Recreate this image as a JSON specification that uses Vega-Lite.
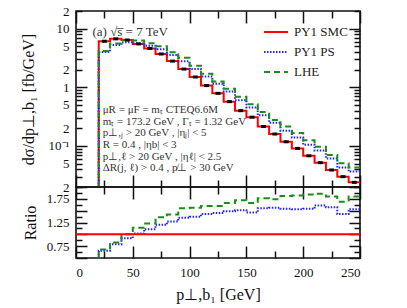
{
  "$schema": "https://vega.github.io/schema/vega-lite/v6.json",
  "padding": {"left": 19, "top": 4, "right": 5, "bottom": 5},
  "background": "white",
  "spacing": 0,
  "bounds": "flush",
  "config": {
    "font": "Liberation Serif",
    "view": {"stroke": "#111", "strokeWidth": 1.6},
    "axis": {
      "domain": false, "grid": false,
      "labelFont": "Liberation Serif", "labelFontSize": 13, "labelColor": "#111",
      "titleFont": "Liberation Serif", "titleFontSize": 16, "titleFontWeight": "normal", "titleColor": "#111",
      "tickColor": "#111", "tickWidth": 1.5
    },
    "legend": {"rowPadding": -20, "labelFontSize": 13, "symbolSize": 576}
  },
  "datasets": {
    "main": [
      {"s": "PY1 SMC", "x": 20, "v": 0.02}, {"s": "PY1 SMC", "x": 20, "v": 6.1}, {"s": "PY1 SMC", "x": 30, "v": 6.7}, {"s": "PY1 SMC", "x": 40, "v": 6.4}, {"s": "PY1 SMC", "x": 50, "v": 5.5}, {"s": "PY1 SMC", "x": 60, "v": 4.6}, {"s": "PY1 SMC", "x": 70, "v": 3.7}, {"s": "PY1 SMC", "x": 80, "v": 2.8}, {"s": "PY1 SMC", "x": 90, "v": 2.05}, {"s": "PY1 SMC", "x": 100, "v": 1.5}, {"s": "PY1 SMC", "x": 110, "v": 1.07}, {"s": "PY1 SMC", "x": 120, "v": 0.79}, {"s": "PY1 SMC", "x": 130, "v": 0.57}, {"s": "PY1 SMC", "x": 140, "v": 0.4}, {"s": "PY1 SMC", "x": 150, "v": 0.31}, {"s": "PY1 SMC", "x": 160, "v": 0.215}, {"s": "PY1 SMC", "x": 170, "v": 0.16}, {"s": "PY1 SMC", "x": 180, "v": 0.118}, {"s": "PY1 SMC", "x": 190, "v": 0.091}, {"s": "PY1 SMC", "x": 200, "v": 0.068}, {"s": "PY1 SMC", "x": 210, "v": 0.052}, {"s": "PY1 SMC", "x": 220, "v": 0.039}, {"s": "PY1 SMC", "x": 230, "v": 0.03}, {"s": "PY1 SMC", "x": 240, "v": 0.024}, {"s": "PY1 SMC", "x": 250, "v": 0.024},
      {"s": "PY1 PS", "x": 20, "v": 0.02}, {"s": "PY1 PS", "x": 20, "v": 3.99}, {"s": "PY1 PS", "x": 30, "v": 5.29}, {"s": "PY1 PS", "x": 40, "v": 5.86}, {"s": "PY1 PS", "x": 50, "v": 5.61}, {"s": "PY1 PS", "x": 60, "v": 5.11}, {"s": "PY1 PS", "x": 70, "v": 4.44}, {"s": "PY1 PS", "x": 80, "v": 3.56}, {"s": "PY1 PS", "x": 90, "v": 2.77}, {"s": "PY1 PS", "x": 100, "v": 2.06}, {"s": "PY1 PS", "x": 110, "v": 1.53}, {"s": "PY1 PS", "x": 120, "v": 1.15}, {"s": "PY1 PS", "x": 130, "v": 0.85}, {"s": "PY1 PS", "x": 140, "v": 0.604}, {"s": "PY1 PS", "x": 150, "v": 0.453}, {"s": "PY1 PS", "x": 160, "v": 0.333}, {"s": "PY1 PS", "x": 170, "v": 0.25}, {"s": "PY1 PS", "x": 180, "v": 0.182}, {"s": "PY1 PS", "x": 190, "v": 0.139}, {"s": "PY1 PS", "x": 200, "v": 0.105}, {"s": "PY1 PS", "x": 210, "v": 0.0837}, {"s": "PY1 PS", "x": 220, "v": 0.0612}, {"s": "PY1 PS", "x": 230, "v": 0.0429}, {"s": "PY1 PS", "x": 240, "v": 0.0367}, {"s": "PY1 PS", "x": 250, "v": 0.0367},
      {"s": "LHE", "x": 20, "v": 0.02}, {"s": "LHE", "x": 20, "v": 4.15}, {"s": "LHE", "x": 30, "v": 5.56}, {"s": "LHE", "x": 40, "v": 6.4}, {"s": "LHE", "x": 50, "v": 6.27}, {"s": "LHE", "x": 60, "v": 5.66}, {"s": "LHE", "x": 70, "v": 5.03}, {"s": "LHE", "x": 80, "v": 3.98}, {"s": "LHE", "x": 90, "v": 3.18}, {"s": "LHE", "x": 100, "v": 2.34}, {"s": "LHE", "x": 110, "v": 1.71}, {"s": "LHE", "x": 120, "v": 1.26}, {"s": "LHE", "x": 130, "v": 0.946}, {"s": "LHE", "x": 140, "v": 0.688}, {"s": "LHE", "x": 150, "v": 0.515}, {"s": "LHE", "x": 160, "v": 0.378}, {"s": "LHE", "x": 170, "v": 0.278}, {"s": "LHE", "x": 180, "v": 0.214}, {"s": "LHE", "x": 190, "v": 0.166}, {"s": "LHE", "x": 200, "v": 0.125}, {"s": "LHE", "x": 210, "v": 0.0967}, {"s": "LHE", "x": 220, "v": 0.0702}, {"s": "LHE", "x": 230, "v": 0.0507}, {"s": "LHE", "x": 240, "v": 0.0432}, {"s": "LHE", "x": 250, "v": 0.0432}
    ],
    "err": [
      {"x": 25, "v": 6.1}, {"x": 35, "v": 6.7}, {"x": 45, "v": 6.4}, {"x": 55, "v": 5.5}, {"x": 65, "v": 4.6}, {"x": 75, "v": 3.7}, {"x": 85, "v": 2.8}, {"x": 95, "v": 2.05}, {"x": 105, "v": 1.5}, {"x": 115, "v": 1.07}, {"x": 125, "v": 0.79}, {"x": 135, "v": 0.57}, {"x": 145, "v": 0.4}, {"x": 155, "v": 0.31}, {"x": 165, "v": 0.215}, {"x": 175, "v": 0.16}, {"x": 185, "v": 0.118}, {"x": 195, "v": 0.091}, {"x": 205, "v": 0.068}, {"x": 215, "v": 0.052}, {"x": 225, "v": 0.039}, {"x": 235, "v": 0.03}, {"x": 245, "v": 0.024}
    ],
    "ratio": [
      {"s": "PY1 SMC", "x": 0, "r": 1}, {"s": "PY1 SMC", "x": 250, "r": 1},
      {"s": "PY1 PS", "x": 20, "r": 0.5}, {"s": "PY1 PS", "x": 20, "r": 0.654}, {"s": "PY1 PS", "x": 30, "r": 0.79}, {"s": "PY1 PS", "x": 40, "r": 0.915}, {"s": "PY1 PS", "x": 50, "r": 1.02}, {"s": "PY1 PS", "x": 60, "r": 1.11}, {"s": "PY1 PS", "x": 70, "r": 1.2}, {"s": "PY1 PS", "x": 80, "r": 1.27}, {"s": "PY1 PS", "x": 90, "r": 1.35}, {"s": "PY1 PS", "x": 100, "r": 1.37}, {"s": "PY1 PS", "x": 110, "r": 1.43}, {"s": "PY1 PS", "x": 120, "r": 1.45}, {"s": "PY1 PS", "x": 130, "r": 1.49}, {"s": "PY1 PS", "x": 140, "r": 1.51}, {"s": "PY1 PS", "x": 150, "r": 1.46}, {"s": "PY1 PS", "x": 160, "r": 1.55}, {"s": "PY1 PS", "x": 170, "r": 1.56}, {"s": "PY1 PS", "x": 180, "r": 1.54}, {"s": "PY1 PS", "x": 190, "r": 1.53}, {"s": "PY1 PS", "x": 200, "r": 1.54}, {"s": "PY1 PS", "x": 210, "r": 1.61}, {"s": "PY1 PS", "x": 220, "r": 1.57}, {"s": "PY1 PS", "x": 230, "r": 1.43}, {"s": "PY1 PS", "x": 240, "r": 1.53}, {"s": "PY1 PS", "x": 250, "r": 1.53},
      {"s": "LHE", "x": 20, "r": 0.5}, {"s": "LHE", "x": 20, "r": 0.68}, {"s": "LHE", "x": 30, "r": 0.83}, {"s": "LHE", "x": 40, "r": 1.0}, {"s": "LHE", "x": 50, "r": 1.14}, {"s": "LHE", "x": 60, "r": 1.23}, {"s": "LHE", "x": 70, "r": 1.36}, {"s": "LHE", "x": 80, "r": 1.42}, {"s": "LHE", "x": 90, "r": 1.55}, {"s": "LHE", "x": 100, "r": 1.56}, {"s": "LHE", "x": 110, "r": 1.6}, {"s": "LHE", "x": 120, "r": 1.6}, {"s": "LHE", "x": 130, "r": 1.66}, {"s": "LHE", "x": 140, "r": 1.72}, {"s": "LHE", "x": 150, "r": 1.66}, {"s": "LHE", "x": 160, "r": 1.76}, {"s": "LHE", "x": 170, "r": 1.74}, {"s": "LHE", "x": 180, "r": 1.81}, {"s": "LHE", "x": 190, "r": 1.82}, {"s": "LHE", "x": 200, "r": 1.84}, {"s": "LHE", "x": 210, "r": 1.86}, {"s": "LHE", "x": 220, "r": 1.8}, {"s": "LHE", "x": 230, "r": 1.69}, {"s": "LHE", "x": 240, "r": 1.8}, {"s": "LHE", "x": 250, "r": 1.8}
    ],
    "header": [{"x": 14.5, "v": 8.7, "t": "(a)   √s̅ = 7 TeV"}],
    "notes": [{"x": 23.5, "v": 0.515, "t": "μR = μF = mₜ CTEQ6.6M\nmₜ = 173.2 GeV , Γₜ = 1.32 GeV\np⊥,ⱼ > 20 GeV , |ηⱼ| < 5\nR = 0.4 , |ηb| < 3\np⊥,ℓ > 20 GeV , |ηℓ| < 2.5\nΔR(j, ℓ) > 0.4 , p̸⊥ > 30 GeV"}]
  },
  "vconcat": [
    {
      "width": 284, "height": 176,
      "resolve": {"scale": {"x": "shared", "y": "shared"}, "axis": {"x": "independent", "y": "independent"}},
      "layer": [
        {
          "data": {"name": "main"},
          "mark": {"type": "line", "interpolate": "step-after", "clip": true, "strokeWidth": 2},
          "encoding": {
            "x": {"field": "x", "type": "quantitative", "scale": {"domain": [0, 250], "nice": false},
                  "axis": {"orient": "bottom", "labels": false, "title": null, "values": [0, 25, 50, 75, 100, 125, 150, 175, 200, 225, 250],
                           "tickSize": {"condition": {"test": "datum.value % 50 === 0", "value": -12}, "value": -7}}},
            "y": {"field": "v", "type": "quantitative", "scale": {"type": "log", "domain": [0.02, 20], "nice": false},
                  "axis": {"orient": "left", "ticks": false, "labelPadding": 7, "values": [0.02, 0.05, 0.1, 0.2, 0.5, 1, 2, 5, 10, 20],
                           "labelExpr": "datum.value == 0.1 ? '10⁻¹' : datum.value == 10 ? '10' : '' + round(datum.value / pow(10, floor(log(datum.value) / LN10 + 0.000001)))",
                           "title": "dσ/dp⊥,b₁ [fb/GeV]", "titleX": -48, "titleY": 88, "titleBaseline": "middle", "titleAngle": 270}},
            "color": {"field": "s", "type": "nominal",
                      "scale": {"domain": ["PY1 SMC", "PY1 PS", "LHE"], "range": ["#ff0000", "#2323ff", "#1d8a1d"]},
                      "legend": {"orient": "none", "legendX": 187, "legendY": 8, "title": null, "symbolType": "stroke", "symbolSize": 576, "symbolStrokeWidth": 2, "labelFont": "Liberation Serif", "labelFontSize": 13, "labelColor": "#222", "rowPadding": -20, "padding": 0, "labelOffset": 5}},
            "strokeDash": {"field": "s", "type": "nominal",
                           "scale": {"domain": ["PY1 SMC", "PY1 PS", "LHE"], "range": [[1, 0], [1.5, 1.5], [6, 4]]},
                           "legend": {"orient": "none", "legendX": 187, "legendY": 8, "title": null, "symbolType": "stroke", "symbolSize": 576, "symbolStrokeWidth": 2, "labelFont": "Liberation Serif", "labelFontSize": 13, "labelColor": "#222", "rowPadding": -20, "padding": 0, "labelOffset": 5}}
          }
        },
        {
          "data": {"name": "err"},
          "mark": {"type": "point", "shape": "M-1,-0.6H1V0.6H-1Z", "filled": true, "color": "#000", "opacity": 1, "size": 25},
          "encoding": {
            "x": {"field": "x", "type": "quantitative",
                  "axis": {"orient": "top", "labels": false, "title": null, "values": [0, 25, 50, 75, 100, 125, 150, 175, 200, 225, 250],
                           "tickSize": {"condition": {"test": "datum.value % 50 === 0", "value": -12}, "value": -7}}},
            "y": {"field": "v", "type": "quantitative",
                  "axis": {"orient": "left", "labels": false, "title": null,
                           "values": [0.02, 0.03, 0.04, 0.05, 0.06, 0.07, 0.08, 0.09, 0.1, 0.2, 0.3, 0.4, 0.5, 0.6, 0.7, 0.8, 0.9, 1, 2, 3, 4, 5, 6, 7, 8, 9, 10, 20],
                           "tickSize": {"condition": {"test": "abs(log(datum.value) / LN10 - round(log(datum.value) / LN10)) < 0.001", "value": -11}, "value": -6}}}
          }
        },
        {
          "data": {"name": "notes"},
          "mark": {"type": "text", "align": "left", "baseline": "top", "lineBreak": "\n", "lineHeight": 11.6, "fontSize": 11, "font": "Liberation Serif", "color": "#333"},
          "encoding": {
            "x": {"field": "x", "type": "quantitative", "axis": null},
            "y": {"field": "v", "type": "quantitative",
                  "axis": {"orient": "right", "labels": false, "title": null,
                           "values": [0.02, 0.03, 0.04, 0.05, 0.06, 0.07, 0.08, 0.09, 0.1, 0.2, 0.3, 0.4, 0.5, 0.6, 0.7, 0.8, 0.9, 1, 2, 3, 4, 5, 6, 7, 8, 9, 10, 20],
                           "tickSize": {"condition": {"test": "abs(log(datum.value) / LN10 - round(log(datum.value) / LN10)) < 0.001", "value": -11}, "value": -6}}},
            "text": {"field": "t", "type": "nominal"}
          }
        },
        {
          "data": {"name": "header"},
          "mark": {"type": "text", "align": "left", "baseline": "middle", "fontSize": 13, "font": "Liberation Serif", "color": "#333"},
          "encoding": {
            "x": {"field": "x", "type": "quantitative", "axis": null},
            "y": {"field": "v", "type": "quantitative", "axis": null},
            "text": {"field": "t", "type": "nominal"}
          }
        }
      ]
    },
    {
      "width": 284, "height": 71,
      "resolve": {"scale": {"x": "shared", "y": "shared"}, "axis": {"x": "independent", "y": "independent"}},
      "layer": [
        {
          "data": {"name": "ratio"},
          "transform": [{"filter": "datum.s === 'PY1 PS'"}],
          "mark": {"type": "line", "interpolate": "step-after", "clip": true, "strokeWidth": 2, "color": "#2323ff", "strokeDash": [1.5, 1.5]},
          "encoding": {
            "x": {"field": "x", "type": "quantitative", "scale": {"domain": [0, 250], "nice": false},
                  "axis": {"orient": "bottom", "ticks": false, "labelPadding": 8, "values": [0, 50, 100, 150, 200, 250],
                           "title": "p⊥,b₁ [GeV]", "titleY": 36, "titleBaseline": "middle"}},
            "y": {"field": "r", "type": "quantitative", "scale": {"domain": [0.5, 2], "nice": false},
                  "axis": {"orient": "left", "ticks": false, "labelPadding": 7, "values": [0.75, 1, 1.25, 1.5, 1.75],
                           "labelExpr": "datum.value == 1 ? '1.0' : '' + datum.value",
                           "title": "Ratio", "titleX": -46, "titleY": 35.5, "titleBaseline": "middle", "titleAngle": 270}}
          }
        },
        {
          "data": {"name": "ratio"},
          "transform": [{"filter": "datum.s === 'LHE'"}],
          "mark": {"type": "line", "interpolate": "step-after", "clip": true, "strokeWidth": 2, "color": "#1d8a1d", "strokeDash": [6, 4]},
          "encoding": {
            "x": {"field": "x", "type": "quantitative",
                  "axis": {"orient": "bottom", "labels": false, "title": null, "values": [0, 25, 50, 75, 100, 125, 150, 175, 200, 225, 250],
                           "tickSize": {"condition": {"test": "datum.value % 50 === 0", "value": -12}, "value": -7}}},
            "y": {"field": "r", "type": "quantitative",
                  "axis": {"orient": "left", "labels": false, "title": null,
                           "values": [0.5, 0.625, 0.75, 0.875, 1, 1.125, 1.25, 1.375, 1.5, 1.625, 1.75, 1.875, 2],
                           "tickSize": {"condition": {"test": "(datum.value * 4) % 1 === 0", "value": -11}, "value": -6}}}
          }
        },
        {
          "data": {"name": "ratio"},
          "transform": [{"filter": "datum.s === 'PY1 SMC'"}],
          "mark": {"type": "line", "clip": true, "strokeWidth": 2, "color": "#ff0000"},
          "encoding": {
            "x": {"field": "x", "type": "quantitative",
                  "axis": {"orient": "top", "labels": false, "title": null, "values": [0, 25, 50, 75, 100, 125, 150, 175, 200, 225, 250],
                           "tickSize": {"condition": {"test": "datum.value % 50 === 0", "value": -12}, "value": -7}}},
            "y": {"field": "r", "type": "quantitative",
                  "axis": {"orient": "right", "labels": false, "title": null,
                           "values": [0.5, 0.625, 0.75, 0.875, 1, 1.125, 1.25, 1.375, 1.5, 1.625, 1.75, 1.875, 2],
                           "tickSize": {"condition": {"test": "(datum.value * 4) % 1 === 0", "value": -11}, "value": -6}}}
          }
        }
      ]
    }
  ]
}
